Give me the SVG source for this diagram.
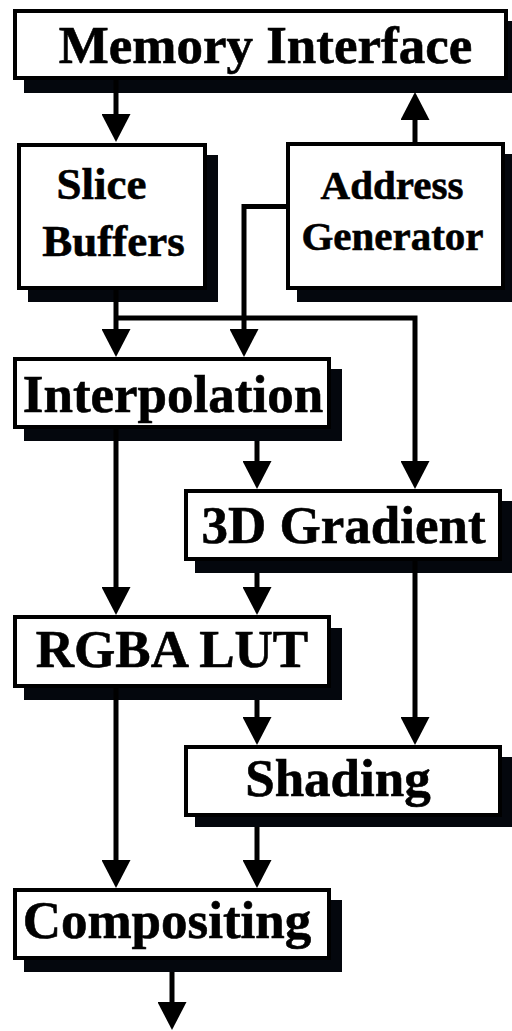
<svg xmlns="http://www.w3.org/2000/svg" width="512" height="1031" viewBox="0 0 512 1031">
<style>
.box{fill:#fff;stroke:#000;stroke-width:4}
.sh{fill:#04070d}
.lbl{font-family:"Liberation Serif","Times New Roman",serif;font-weight:bold;fill:#000;stroke:#000;stroke-width:0.6;text-anchor:middle}
.big{font-size:53px}
.mid{font-size:45px}
.sm{font-size:41px}
.ln{fill:none;stroke:#000;stroke-width:5}
</style>
<defs>
<marker id="ah" markerUnits="userSpaceOnUse" markerWidth="29" markerHeight="29" viewBox="0 0 28 29" refX="18" refY="14.5" orient="auto">
<path d="M0,0 L28,14.5 L0,29 z" fill="#000"/>
</marker>
</defs>
<rect width="512" height="1031" fill="#fff"/>
<g id="memory-interface">
<rect class="sh" x="24" y="21" width="495" height="72"/>
<rect class="box" x="15" y="11" width="491" height="67"/>
<text class="lbl big" x="265.5" y="63">Memory Interface</text>
</g>
<g id="slice-buffers">
<rect class="sh" x="28" y="155" width="190" height="147"/>
<rect class="box" x="19" y="145" width="186" height="143"/>
<text class="lbl mid" x="101.5" y="199">Slice</text>
<text class="lbl mid" x="113.5" y="256">Buffers</text>
</g>
<g id="address-generator">
<rect class="sh" x="297" y="154" width="219" height="148"/>
<rect class="box" x="288" y="144" width="215" height="144"/>
<text class="lbl sm" x="392" y="199">Address</text>
<text class="lbl sm" x="392.5" y="250">Generator</text>
</g>
<g id="interpolation">
<rect class="sh" x="24" y="369" width="318" height="72"/>
<rect class="box" x="15" y="359" width="314" height="68"/>
<text class="lbl big" x="173" y="412">Interpolation</text>
</g>
<g id="gradient-3d">
<rect class="sh" x="195" y="501" width="318" height="72"/>
<rect class="box" x="186" y="491" width="314" height="68"/>
<text class="lbl big" x="343.5" y="543">3D Gradient</text>
</g>
<g id="rgba-lut">
<rect class="sh" x="24" y="628" width="318" height="72"/>
<rect class="box" x="15" y="617" width="314" height="69"/>
<text class="lbl big" x="172" y="667">RGBA LUT</text>
</g>
<g id="shading">
<rect class="sh" x="195" y="757" width="318" height="70"/>
<rect class="box" x="186" y="747" width="314" height="68"/>
<text class="lbl big" x="338" y="796">Shading</text>
</g>
<g id="compositing">
<rect class="sh" x="24" y="900" width="318" height="72"/>
<rect class="box" x="15" y="890" width="314" height="68"/>
<text class="lbl big" x="167" y="938">Compositing</text>
</g>
<g id="connectors">
<path class="ln" d="M116,80 V132" marker-end="url(#ah)"/>
<path class="ln" d="M415,142 V102" marker-end="url(#ah)"/>
<path class="ln" d="M286,206.5 H244 V347" marker-end="url(#ah)"/>
<path class="ln" d="M116,290 V347" marker-end="url(#ah)"/>
<path class="ln" d="M116,318 H415 V479" marker-end="url(#ah)"/>
<path class="ln" d="M116,429 V605" marker-end="url(#ah)"/>
<path class="ln" d="M257,441 V479" marker-end="url(#ah)"/>
<path class="ln" d="M257,573 V605" marker-end="url(#ah)"/>
<path class="ln" d="M415,561 V735" marker-end="url(#ah)"/>
<path class="ln" d="M257,700 V735" marker-end="url(#ah)"/>
<path class="ln" d="M116,688 V878" marker-end="url(#ah)"/>
<path class="ln" d="M257,827 V878" marker-end="url(#ah)"/>
<path class="ln" d="M172,972 V1020" marker-end="url(#ah)"/>
</g>
</svg>
